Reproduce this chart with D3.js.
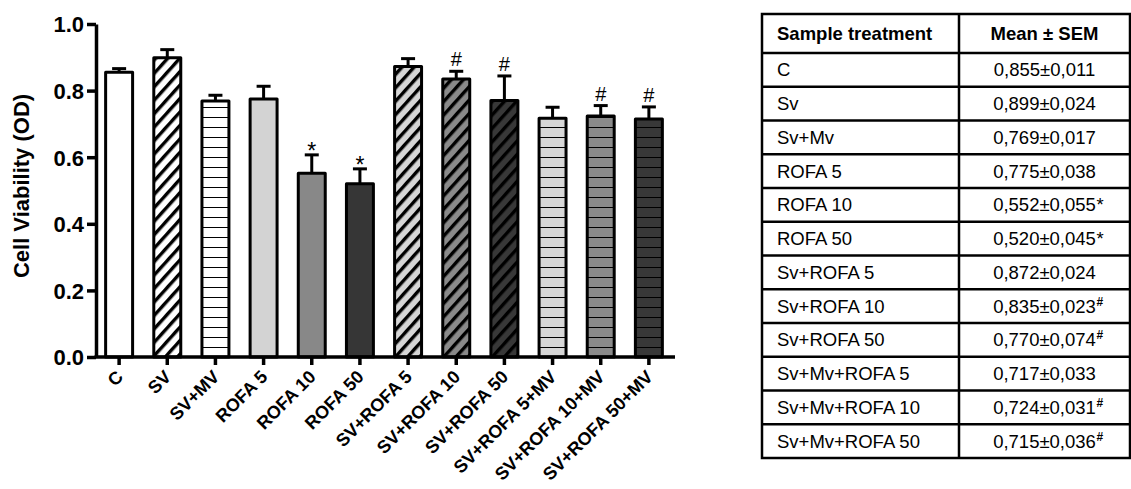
<!DOCTYPE html>
<html><head><meta charset="utf-8">
<script src="https://cdn.jsdelivr.net/npm/d3@7"></script>
<style>
body{margin:0;background:#fff}
svg{display:block}
</style></head>
<body>
<svg id="chart" width="1131" height="489"></svg>
<script>
// ---- data ----
const categories = ["C","SV","SV+MV","ROFA 5","ROFA 10","ROFA 50","SV+ROFA 5","SV+ROFA 10","SV+ROFA 50","SV+ROFA 5+MV","SV+ROFA 10+MV","SV+ROFA 50+MV"];
const means = [0.855,0.899,0.769,0.775,0.552,0.520,0.872,0.835,0.770,0.717,0.724,0.715];
const sems  = [0.011,0.024,0.017,0.038,0.055,0.045,0.024,0.023,0.074,0.033,0.031,0.036];
const marks = ["","","","","*","*","","#","#","","#","#"];
const yTicks = [0,0.2,0.4,0.6,0.8,1.0];
const yTitle = "Cell Viability (OD)";
const tableHeader = ["Sample treatment","Mean ± SEM"];
const tableLabels = ["C","Sv","Sv+Mv","ROFA 5","ROFA 10","ROFA 50","Sv+ROFA 5","Sv+ROFA 10","Sv+ROFA 50","Sv+Mv+ROFA 5","Sv+Mv+ROFA 10","Sv+Mv+ROFA 50"];
const tableValues = ["0,855±0,011","0,899±0,024","0,769±0,017","0,775±0,038","0,552±0,055","0,520±0,045","0,872±0,024","0,835±0,023","0,770±0,074","0,717±0,033","0,724±0,031","0,715±0,036"];
const tableSup = ["","","","","*","*","","#","#","","#","#"];

// ---- styles ----
const barFills = ["#ffffff","#ffffff","#ffffff","#d3d3d3","#888888","#363636","#d6d6d6","#8a8a8a","#383838","#d6d6d6","#8a8a8a","#383838"];
const barHatch = ["none","diag","horiz","none","none","none","diag","diag","diag","horiz","horiz","horiz"];
const FONT = "'Liberation Sans', Arial, Helvetica, sans-serif";

const svg = d3.select("#chart");
const defs = svg.append("defs");

const y = d3.scaleLinear().domain([0,1]).range([357,24]);
const x = d3.scaleBand().domain(categories).range([96,672]).paddingInner(0.44).paddingOuter(0.2);

// patterns
categories.forEach((c,i)=>{
  if(barHatch[i]==="none") return;
  const id = "pat"+i;
  if(barHatch[i]==="diag"){
    const p = defs.append("pattern").attr("id",id).attr("patternUnits","userSpaceOnUse")
      .attr("width",9).attr("height",9).attr("patternTransform","rotate(42)");
    p.append("rect").attr("width",9).attr("height",9).attr("fill",barFills[i]);
    p.append("line").attr("x1",1.7).attr("x2",1.7).attr("y1",0).attr("y2",9)
      .attr("stroke","#000").attr("stroke-width",3.4);
  } else {
    const p = defs.append("pattern").attr("id",id).attr("patternUnits","userSpaceOnUse")
      .attr("width",10).attr("height",10).attr("y",y(0));
    p.append("rect").attr("width",10).attr("height",10).attr("fill",barFills[i]);
    p.append("line").attr("x1",0).attr("x2",10).attr("y1",0).attr("y2",0)
      .attr("stroke","#000").attr("stroke-width",2);
  }
});

const g = svg.append("g");

// error bars
const capW = 14;
categories.forEach((c,i)=>{
  const cx = x(c)+x.bandwidth()/2;
  g.append("line").attr("x1",cx).attr("x2",cx).attr("y1",y(means[i])).attr("y2",y(means[i]+sems[i]))
    .attr("stroke","#000").attr("stroke-width",3);
  g.append("line").attr("x1",cx-capW/2).attr("x2",cx+capW/2).attr("y1",y(means[i]+sems[i])).attr("y2",y(means[i]+sems[i]))
    .attr("stroke","#000").attr("stroke-width",3);
});

// bars
g.selectAll("rect.bar").data(categories).enter().append("rect").attr("class","bar")
  .attr("x",d=>x(d)).attr("width",x.bandwidth())
  .attr("y",(d,i)=>y(means[i])).attr("height",(d,i)=>y(0)-y(means[i]))
  .attr("fill",(d,i)=>barHatch[i]==="none"?barFills[i]:"url(#pat"+i+")")
  .attr("stroke","#000").attr("stroke-width",3).attr("stroke-linejoin","round");

// significance marks
categories.forEach((c,i)=>{
  if(!marks[i]) return;
  const cx = x(c)+x.bandwidth()/2;
  const top = y(means[i]+sems[i]);
  g.append("text").attr("x",cx).attr("y", marks[i]==="*" ? top+4 : top-5)
    .attr("text-anchor","middle").attr("font-family",FONT).attr("font-size",marks[i]==="*"?23:20)
    .attr("fill","#000").text(marks[i]);
});

// axes
const yAxis = d3.axisLeft(y).tickValues(yTicks).tickFormat(d3.format(".1f")).tickSize(9).tickSizeOuter(0).tickPadding(3);
const ya = svg.append("g").attr("transform","translate(96,0)").call(yAxis);
ya.select(".domain").attr("stroke-width",3.5).attr("stroke","#000");
ya.selectAll(".tick line").attr("stroke-width",3.5);
ya.selectAll(".tick text").attr("font-family",FONT).attr("font-size",22).attr("font-weight","bold").attr("fill","#000").attr("dy","0.36em");

const xAxis = d3.axisBottom(x).tickSize(8).tickSizeOuter(0);
const xa = svg.append("g").attr("transform","translate(0,357)").call(xAxis);
xa.select(".domain").attr("stroke-width",3.5).attr("d","M94.5,0H675");
xa.selectAll(".tick line").attr("stroke-width",3.5);
xa.selectAll(".tick text").attr("font-family",FONT).attr("font-size",18).attr("font-weight","bold").attr("fill","#000")
  .attr("text-anchor","end").attr("dy",0).attr("y",0)
  .attr("transform","translate(5,21) rotate(-45)");

// y title
svg.append("text").attr("transform","translate(29,186) rotate(-90)").attr("text-anchor","middle")
  .attr("font-family",FONT).attr("font-size",22).attr("font-weight","bold").attr("fill","#000").text(yTitle);

// ---- table ----
const tX0 = 762, tX1 = 1130, tXm = 959, tY0 = 14, tHead = 53, tY1 = 458;
const rowH = (tY1 - tHead)/tableLabels.length;
const TF = 18.5;
const tg = svg.append("g");
tg.append("rect").attr("x",tX0).attr("y",tY0).attr("width",tX1-tX0).attr("height",tY1-tY0)
  .attr("fill","none").attr("stroke","#000").attr("stroke-width",2.5);
tg.append("line").attr("x1",tXm).attr("x2",tXm).attr("y1",tY0).attr("y2",tY1).attr("stroke","#000").attr("stroke-width",2.5);
tg.append("line").attr("x1",tX0).attr("x2",tX1).attr("y1",tHead).attr("y2",tHead).attr("stroke","#000").attr("stroke-width",2.5);
tableLabels.forEach((l,i)=>{
  if(i>0) tg.append("line").attr("x1",tX0).attr("x2",tX1).attr("y1",tHead+i*rowH).attr("y2",tHead+i*rowH).attr("stroke","#000").attr("stroke-width",2.5);
});
const colMid = (tXm+tX1)/2;
tg.append("text").attr("x",777).attr("y",(tY0+tHead)/2+6.5).attr("font-family",FONT).attr("font-size",TF).attr("font-weight","bold").text(tableHeader[0]);
tg.append("text").attr("x",colMid).attr("y",(tY0+tHead)/2+6.5).attr("text-anchor","middle").attr("font-family",FONT).attr("font-size",TF).attr("font-weight","bold").text(tableHeader[1]);
tableLabels.forEach((l,i)=>{
  const cy = tHead + i*rowH + rowH/2 + 6.5;
  tg.append("text").attr("x",777).attr("y",cy).attr("font-family",FONT).attr("font-size",TF).text(l);
  const t = tg.append("text").attr("x",colMid).attr("y",cy).attr("text-anchor","middle").attr("font-family",FONT).attr("font-size",TF).text(tableValues[i]);
  if(tableSup[i]){
    const w = t.node().getComputedTextLength();
    if(tableSup[i]==="*"){
      tg.append("text").attr("x",colMid+w/2+0.5).attr("y",cy).attr("font-family",FONT).attr("font-size",TF).text("*");
    } else {
      tg.append("text").attr("x",colMid+w/2+0.5).attr("y",cy-7).attr("font-family",FONT).attr("font-size",12).attr("font-weight","bold").text("#");
    }
  }
});
</script>
</body></html>
